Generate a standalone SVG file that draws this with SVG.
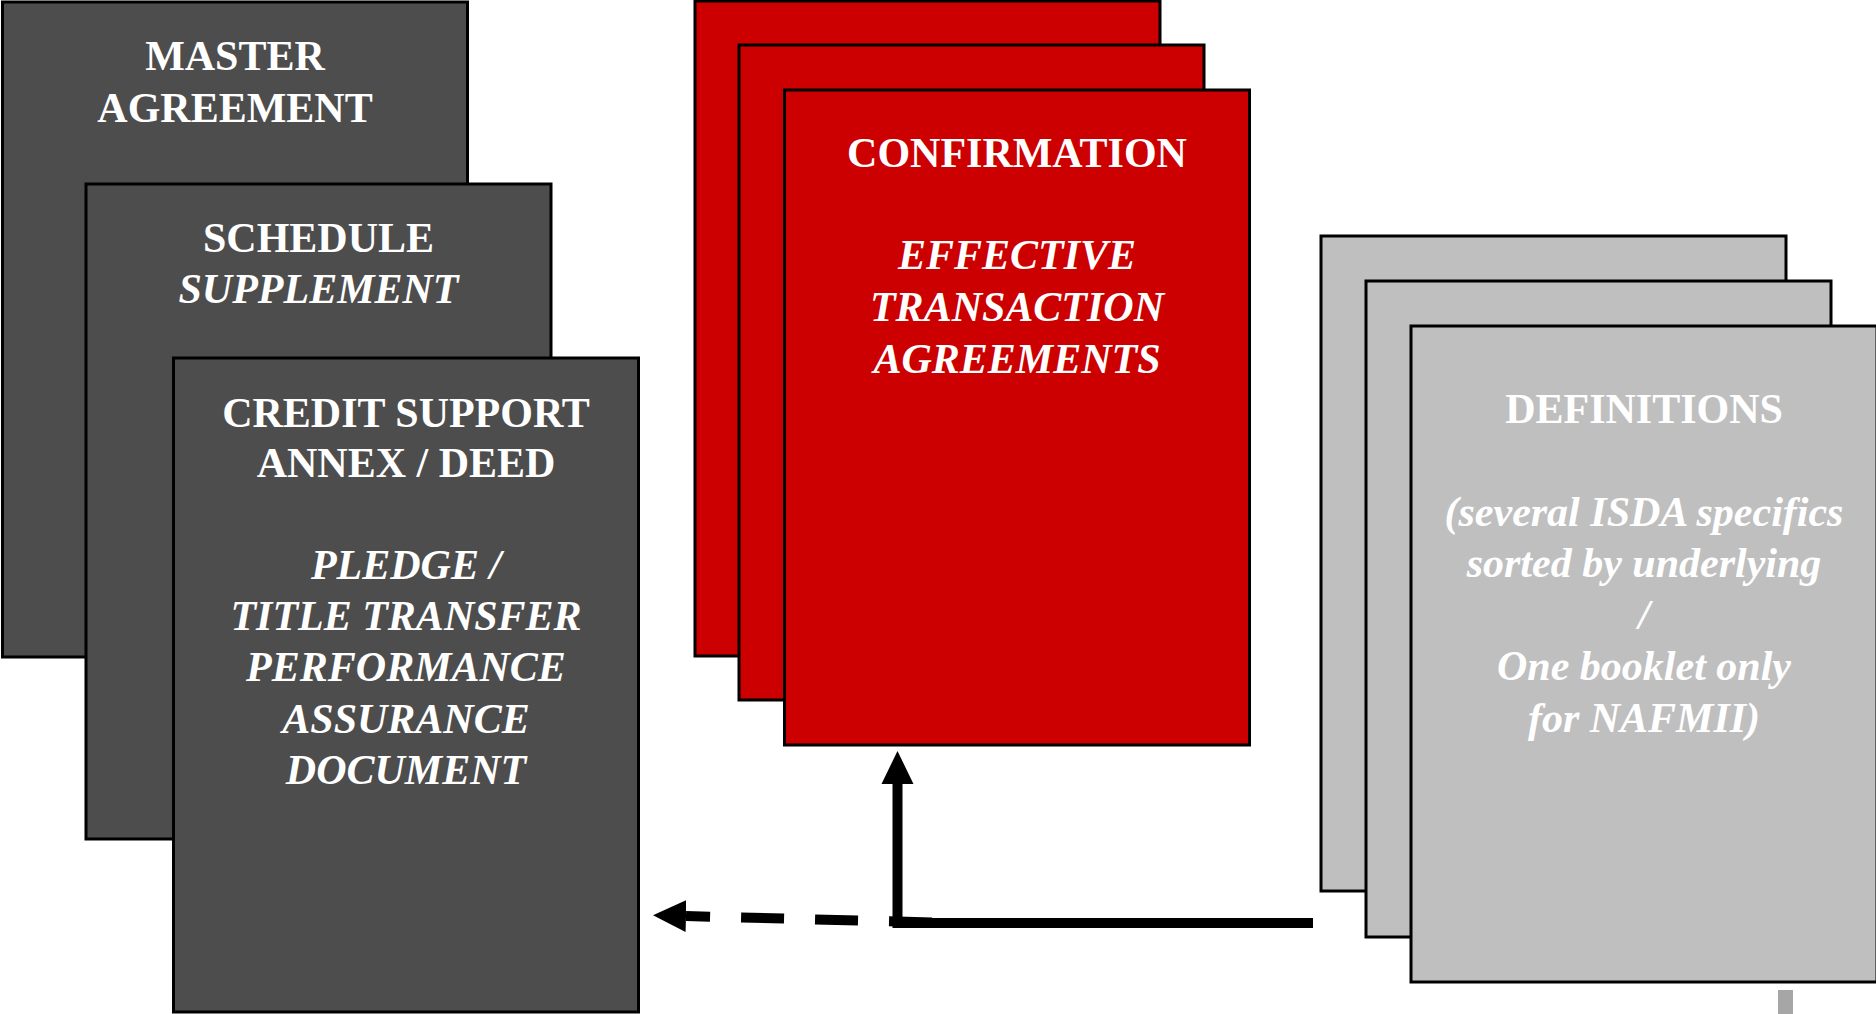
<svg xmlns="http://www.w3.org/2000/svg" width="1876" height="1014" viewBox="0 0 1876 1014">
  <style>
    .doc { stroke: #000; stroke-width: 3; }
    .dark { fill: #4d4d4d; }
    .red { fill: #cc0000; }
    .gray { fill: #bfbfbf; }
    text { font-family: "Liberation Serif", "Times New Roman", serif; font-weight: bold; font-size: 42px; fill: #ffffff; text-anchor: middle; }
    .it { font-style: italic; }
    .conn { fill: none; stroke: #000; stroke-width: 10; stroke-linecap: butt; }
    .dash { stroke-dasharray: 43 31; }
  </style>
  <defs>
    <marker id="head" markerUnits="userSpaceOnUse" markerWidth="34" markerHeight="34" refX="0" refY="16" orient="auto" viewBox="0 0 34 32">
      <path d="M0,0 L33,16 L0,32 z" fill="#000"/>
    </marker>
  </defs>

  <g id="master-agreement">
    <rect class="doc dark" x="2.5" y="2" width="465" height="655"/>
    <text x="235" y="70">MASTER</text>
    <text x="235" y="122">AGREEMENT</text>
  </g>

  <g id="schedule">
    <rect class="doc dark" x="86" y="184" width="465" height="655"/>
    <text x="318.5" y="252">SCHEDULE</text>
    <text class="it" x="318.5" y="303">SUPPLEMENT</text>
  </g>

  <g id="credit-support">
    <rect class="doc dark" x="173.5" y="358" width="465" height="654"/>
    <text x="406" y="427">CREDIT SUPPORT</text>
    <text x="406" y="477">ANNEX / DEED</text>
    <text class="it" x="406" y="579">PLEDGE /</text>
    <text class="it" x="406" y="630">TITLE TRANSFER</text>
    <text class="it" x="406" y="681">PERFORMANCE</text>
    <text class="it" x="406" y="733">ASSURANCE</text>
    <text class="it" x="406" y="784">DOCUMENT</text>
  </g>

  <g id="confirmation">
    <rect class="doc red" x="695" y="1" width="465" height="655"/>
    <rect class="doc red" x="739" y="45" width="465" height="655"/>
    <rect class="doc red" x="784.5" y="90" width="465" height="655"/>
    <text x="1017" y="167">CONFIRMATION</text>
    <text class="it" x="1017" y="269">EFFECTIVE</text>
    <text class="it" x="1017" y="321">TRANSACTION</text>
    <text class="it" x="1017" y="373">AGREEMENTS</text>
  </g>

  <g id="definitions">
    <rect class="doc gray" x="1321" y="236" width="465" height="655"/>
    <rect class="doc gray" x="1366" y="281" width="465" height="656"/>
    <rect class="doc gray" x="1411" y="326" width="466" height="656"/>
    <text x="1644" y="423">DEFINITIONS</text>
    <text class="it" x="1644" y="526">(several ISDA specifics</text>
    <text class="it" x="1644" y="577">sorted by underlying</text>
    <text class="it" x="1644" y="629">/</text>
    <text class="it" x="1644" y="680">One booklet only</text>
    <text class="it" x="1644" y="732">for NAFMII)</text>
  </g>

  <rect id="stray-mark" x="1778" y="990" width="15" height="24" fill="#a6a6a6"/>

  <g id="connectors">
    <path class="conn" d="M897.5,928 L897.5,784" marker-end="url(#head)"/>
    <path class="conn" d="M901,923 L1313,923"/>
    <path class="conn dash" d="M932,922.5 L686,916" marker-end="url(#head)"/>
  </g>
</svg>
